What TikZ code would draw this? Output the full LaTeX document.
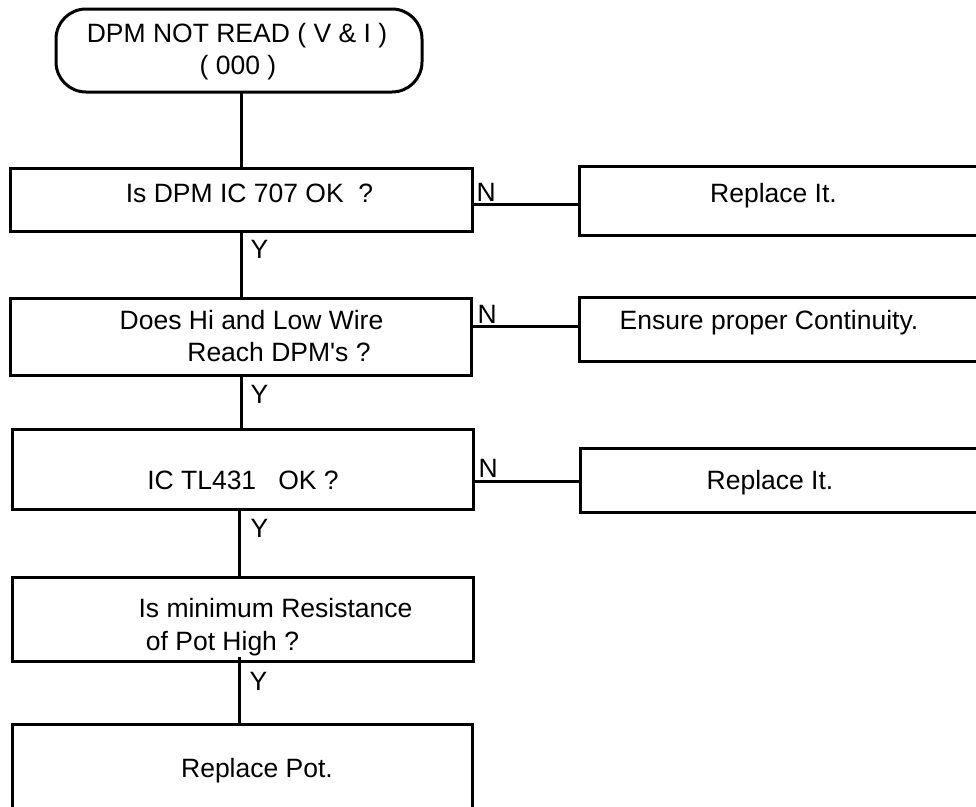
\documentclass[tikz,border=0pt]{standalone}
\usepackage{fontspec}
\setmainfont{Liberation Sans}
\begin{document}
\begin{tikzpicture}[x=1pt,y=-1pt,line width=3pt,
    box/.style={draw, inner sep=0pt, outer sep=0pt},
    txt/.style={anchor=base, inner sep=0pt, font=\fontsize{26.5}{32}\selectfont},
    lbl/.style={anchor=base west, inner sep=0pt, font=\fontsize{26.5}{32}\selectfont}]
        \useasboundingbox (0,0) rectangle (976,806);
        \clip (0,0) rectangle (976,806);
        % main column
        \node[box, rounded corners=30pt, minimum width=366pt, minimum height=83pt] (start) at (239,50.5) {};
        \node[box, minimum width=462pt, minimum height=63pt] (q1) at (241,199.5) {};
        \node[box, minimum width=461pt, minimum height=77pt] (q2) at (240.5,336.5) {};
        \node[box, minimum width=461pt, minimum height=80pt] (q3) at (242.5,469) {};
        \node[box, minimum width=461pt, minimum height=84pt] (q4) at (242.5,619) {};
        \node[box, minimum width=460pt, minimum height=126pt] (q5) at (242,787) {};
        % right column
        \node[box, minimum width=421pt, minimum height=69pt] (r1) at (789.5,200.5) {};
        \node[box, minimum width=421pt, minimum height=64pt] (r2) at (789.5,329) {};
        \node[box, minimum width=420pt, minimum height=64pt] (r3) at (790,480) {};
        % texts
        \node[txt] (t0a) at (237,42) {DPM NOT READ ( V \& I )};
        \node[txt] (t0b) at (238,74) {( 000 )};
        \node[txt] (t1) at (249.5,202) {Is DPM IC 707 OK\ \ ?};
        \node[txt] (t2a) at (251.5,329) {Does Hi and Low Wire};
        \node[txt] (t2b) at (279,361) {Reach DPM\textquotesingle s ?};
        \node[txt] (t3) at (243,489) {IC TL431\ \ \ OK ?};
        \node[txt] (t4a) at (275.5,617) {Is minimum Resistance};
        \node[txt] (t4b) at (222.5,650) {of Pot High ?};
        \node[txt] (t5) at (257,777) {Replace Pot.};
        \node[txt] (s1) at (773.5,202) {Replace It.};
        \node[txt] (s2) at (769,329) {Ensure proper Continuity.};
        \node[txt] (s3) at (770,489) {Replace It.};
        % connectors
        \draw (q1.north) -- (q1.north |- start.south);
        \draw (q1.south) -- (q1.south |- q2.north);
        \draw (q1.south |- q2.south) -- (q1.south |- q3.north);
        \draw (239,509) coordinate (y3) -- (y3 |- q4.north);
        \draw (239,657) coordinate (y4) -- (y4 |- q5.north);
        \path ([yshift=-4.5pt]q1.east) coordinate (n1);
        \path ([yshift=10.5pt]q2.east) coordinate (n2);
        \path ([yshift=-12pt]q3.east) coordinate (n3);
        \draw (n1) -- (n1 -| r1.west);
        \draw (n2) -- (n2 -| r2.west);
        \draw (n3) -- (n3 -| r3.west);
        % labels
        \node[lbl] (n1l) at (475,201) {N};
        \node[lbl] (n2l) at (476,323) {N};
        \node[lbl] (n3l) at (477,477) {N};
        \node[lbl] (y1l) at (249,258) {Y};
        \node[lbl] (y2l) at (249,403) {Y};
        \node[lbl] (y3l) at (249,537) {Y};
        \node[lbl] (y4l) at (248,690) {Y};
\end{tikzpicture}
\end{document}
